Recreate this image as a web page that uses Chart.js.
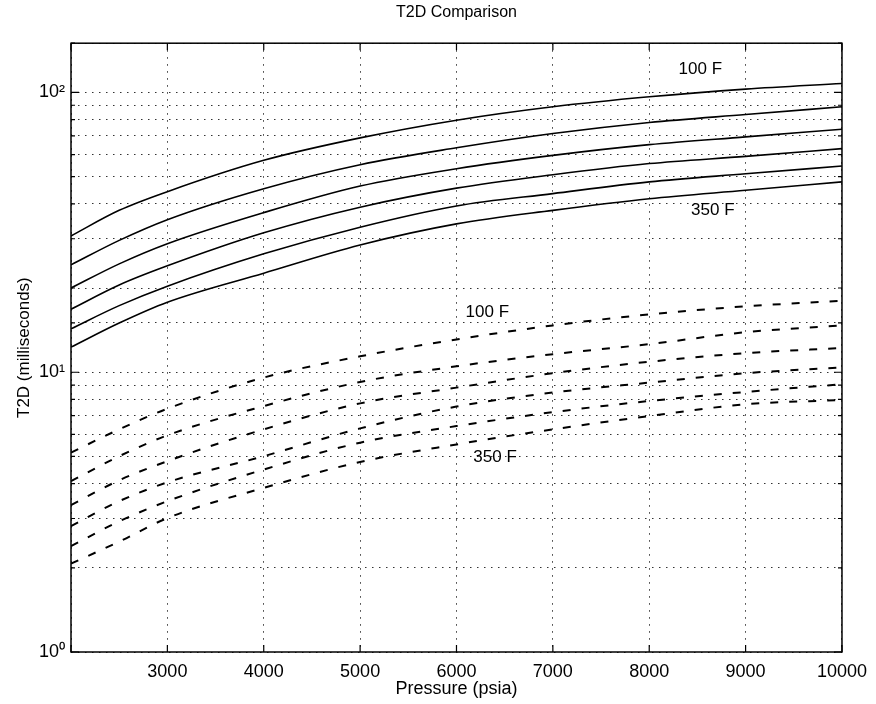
<!DOCTYPE html>
<html>
<head>
<meta charset="utf-8">
<script src="https://cdn.jsdelivr.net/npm/chart.js@4.4.1/dist/chart.umd.min.js"></script>
<style>
  html, body { margin: 0; padding: 0; background: #fff; }
  #wrap { width: 876px; height: 704px; }
</style>
</head>
<body>
<div id="wrap"><canvas id="chart"></canvas></div>
<script>
// Pressure (psia) sample points
const pressure = [2000, 2500, 3000, 4000, 5000, 6000, 7000, 8000, 9000, 10000];

// Solid curves, 100 F (top) to 350 F (bottom)
const solid100 = [30.7, 37.9, 44.2, 57.2, 68.8, 79.6, 88.9, 96.5, 102.8, 107.7];
const solid150 = [24.2, 29.6, 35.1, 45.3, 55.2, 63.4, 71.3, 78.1, 83.4, 88.9];
const solid200 = [20.0, 24.4, 28.8, 37.2, 46.3, 53.4, 59.6, 65.1, 69.4, 73.9];
const solid250 = [16.8, 20.5, 24.0, 31.5, 38.9, 45.5, 50.8, 55.7, 59.1, 63.0];
const solid300 = [14.3, 17.3, 20.3, 26.5, 33.0, 39.3, 43.5, 47.9, 51.2, 54.6];
const solid350 = [12.3, 15.0, 17.8, 22.6, 28.5, 33.9, 37.9, 41.7, 44.7, 47.9];

// Dashed curves, 100 F (top) to 350 F (bottom)
const dashed100 = [5.16, 6.25, 7.41, 9.57, 11.4, 13.1, 14.7, 16.1, 17.2, 18.0];
const dashed150 = [4.08, 5.01, 5.95, 7.57, 9.23, 10.5, 11.6, 12.6, 13.9, 14.7];
const dashed200 = [3.35, 4.11, 4.81, 6.25, 7.74, 8.81, 9.92, 10.9, 11.7, 12.2];
const dashed250 = [2.82, 3.46, 4.04, 5.01, 6.3, 7.54, 8.46, 9.18, 9.92, 10.4];
const dashed300 = [2.39, 2.93, 3.46, 4.49, 5.60, 6.42, 7.20, 7.89, 8.5, 9.06];
const dashed350 = [2.07, 2.48, 3.01, 3.86, 4.78, 5.52, 6.25, 6.97, 7.68, 7.96];

// Curve annotations (data coordinates)
const noteText = ['100 F', '350 F', '100 F', '350 F'];
const noteX = [8530, 8660, 6320, 6400];
const noteY = [121, 37.8, 16.4, 4.96];

const FONT = '"Liberation Sans", Arial, Helvetica, sans-serif';

function series(vals) {
  return pressure.map((p, i) => ({ x: p, y: vals[i] }));
}

function solidSet(vals) {
  return { data: series(vals), borderColor: '#000', borderWidth: 1.6, pointRadius: 0, cubicInterpolationMode: 'monotone', fill: false };
}

function dashedSet(vals) {
  return { data: series(vals), borderColor: '#000', borderWidth: 2, borderDash: [8, 11], pointRadius: 0, cubicInterpolationMode: 'monotone', fill: false };
}

// Box around the plot, MATLAB-style inward ticks and curve notes
const framePlugin = {
  id: 'frame',
  afterDatasetsDraw(chart) {
    const { ctx, chartArea: a, scales } = chart;
    ctx.save();
    ctx.strokeStyle = '#000';
    ctx.lineWidth = 1.2;
    scales.x.ticks.forEach(t => {
      const px = scales.x.getPixelForValue(t.value);
      ctx.beginPath();
      ctx.moveTo(px, a.bottom); ctx.lineTo(px, a.bottom - 7);
      ctx.moveTo(px, a.top); ctx.lineTo(px, a.top + 7);
      ctx.stroke();
    });
    scales.y.ticks.forEach(t => {
      const py = scales.y.getPixelForValue(t.value);
      const major = Math.abs(Math.log10(t.value) % 1) < 1e-9;
      const len = major ? 8 : 4;
      ctx.beginPath();
      ctx.moveTo(a.left, py); ctx.lineTo(a.left + len, py);
      ctx.moveTo(a.right, py); ctx.lineTo(a.right - len, py);
      ctx.stroke();
    });
    ctx.lineWidth = 1.5;
    ctx.strokeRect(a.left, a.top, a.right - a.left, a.bottom - a.top);

    ctx.fillStyle = '#000';
    ctx.font = '17px ' + FONT;
    ctx.textAlign = 'center';
    ctx.textBaseline = 'middle';
    noteText.forEach((txt, i) => {
      ctx.fillText(txt, scales.x.getPixelForValue(noteX[i]), scales.y.getPixelForValue(noteY[i]));
    });
    ctx.restore();
  }
};

const supers = { 0: '\u2070', 1: '\u00B9', 2: '\u00B2', 3: '\u00B3' };

new Chart(document.getElementById('chart'), {
  type: 'line',
  data: {
    datasets: [
      solidSet(solid100), solidSet(solid150), solidSet(solid200),
      solidSet(solid250), solidSet(solid300), solidSet(solid350),
      dashedSet(dashed100), dashedSet(dashed150), dashedSet(dashed200),
      dashedSet(dashed250), dashedSet(dashed300), dashedSet(dashed350)
    ]
  },
  options: {
    responsive: true,
    maintainAspectRatio: false,
    animation: false,
    layout: { padding: { top: 0, right: 33, bottom: 0, left: 0 } },
    plugins: {
      legend: { display: false },
      tooltip: { enabled: false },
      title: {
        display: true,
        text: 'T2D Comparison',
        fullSize: false,
        color: '#000',
        font: { family: FONT, size: 16, weight: 'normal' },
        padding: { top: 3, bottom: 21 }
      }
    },
    scales: {
      x: {
        type: 'linear',
        min: 2000,
        max: 10000,
        border: { display: false, dash: [1.5, 5.5] },
        grid: { color: '#333', lineWidth: 1, drawTicks: false },
        ticks: {
          stepSize: 1000,
          color: '#000',
          padding: 9,
          autoSkip: false,
          maxRotation: 0,
          font: { family: FONT, size: 18 },
          callback: v => (v === 2000 ? '' : String(v))
        },
        title: {
          display: true,
          text: 'Pressure (psia)',
          color: '#000',
          font: { family: FONT, size: 18 },
          padding: { top: 0, bottom: 4 }
        },
        afterFit: scale => { scale.height = 52; }
      },
      y: {
        type: 'logarithmic',
        min: 1,
        max: 150,
        border: { display: false, dash: [1.5, 5.5] },
        grid: { color: '#333', lineWidth: 1, drawTicks: false },
        ticks: {
          color: '#000',
          padding: 6,
          autoSkip: false,
          font: { family: FONT, size: 18 },
          callback: v => {
            const e = Math.log10(v);
            return Math.abs(e - Math.round(e)) < 1e-9 ? '10' + supers[Math.round(e)] : '';
          }
        },
        title: {
          display: true,
          text: 'T2D (milliseconds)',
          color: '#000',
          font: { family: FONT, size: 17 },
          padding: { top: 14, bottom: 0 }
        },
        afterFit: scale => { scale.width = 71; }
      }
    }
  },
  plugins: [framePlugin]
});
</script>
</body>
</html>
